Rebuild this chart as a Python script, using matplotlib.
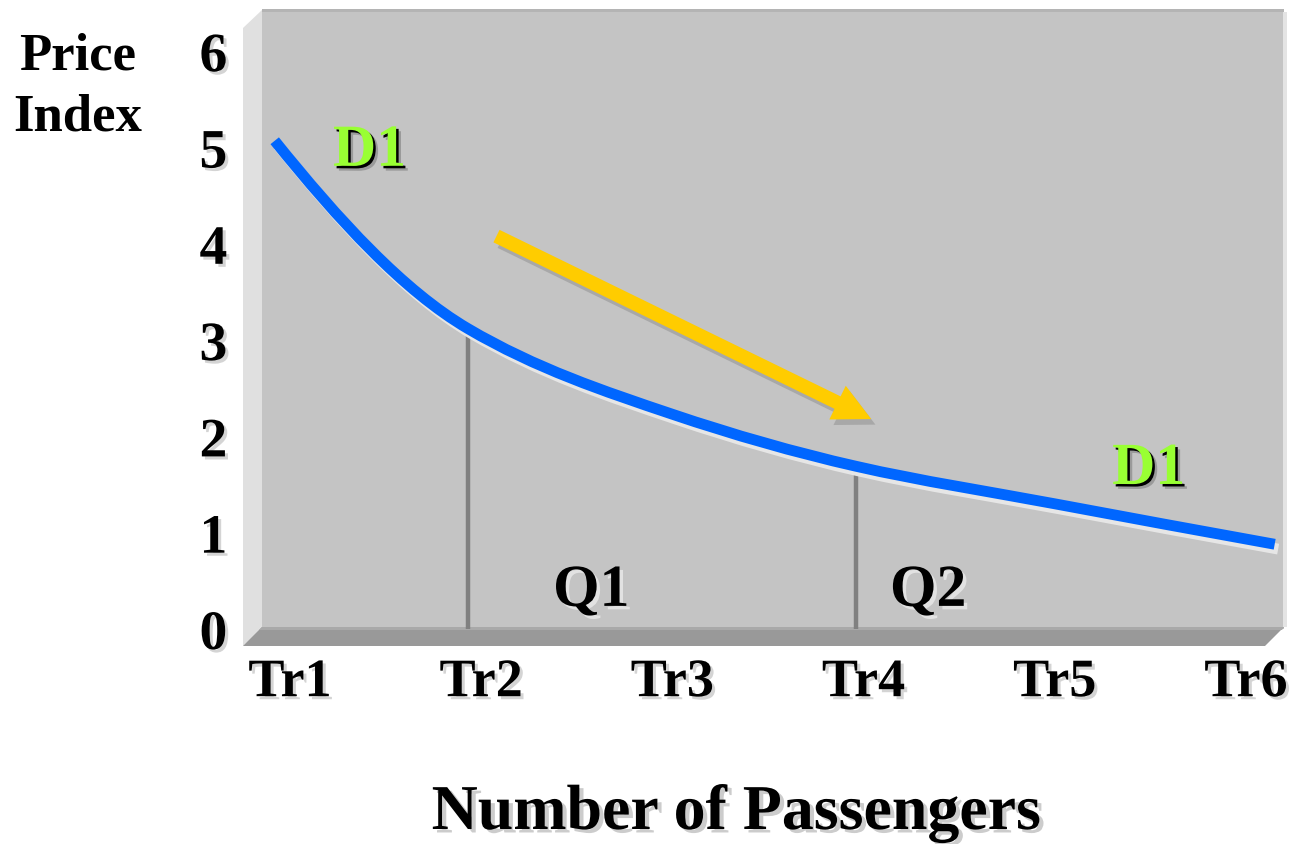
import matplotlib
matplotlib.use("Agg")
import matplotlib.pyplot as plt
import matplotlib.patheffects as pe
from matplotlib.patches import Polygon, PathPatch
from matplotlib.path import Path

plt.rcParams['font.family'] = ['Liberation Serif', 'DejaVu Serif']
plt.rcParams['font.weight'] = 'bold'

# demand curve D1 (quantity position, price index)
demand_x = [0.92, 1.93, 3.00, 3.96, 5.00, 6.15]
demand_y = [5.07, 3.12, 2.23, 1.69, 1.30, 0.88]

# quantity drop lines Q1 / Q2
q_names = ['Q1', 'Q2']
q_x = [1.93, 3.96]
q_y = [3.12, 1.66]

# movement along the curve
arrow_from = (2.08, 4.08)
arrow_to = (4.04, 2.18)

x_ticks = [1, 2, 3, 4, 5, 6]
x_labels = ['Tr1', 'Tr2', 'Tr3', 'Tr4', 'Tr5', 'Tr6']
y_ticks = [0, 1, 2, 3, 4, 5, 6]

W, H = 1296, 845
fig = plt.figure(figsize=(W / 100, H / 100), dpi=100)

# background layer in pixel units for the 3D walls
bg = fig.add_axes([0, 0, 1, 1])
bg.set_xlim(0, W)
bg.set_ylim(H, 0)
bg.axis('off')
bg.add_patch(Polygon([(262, 11), (1284, 11), (1284, 630), (262, 630)],
                     closed=True, fc='#c4c4c4', ec='none'))
bg.add_patch(Polygon([(262, 10), (1284, 10), (1284, 13), (262, 13)],
                     closed=True, fc='#b4b4b4', ec='none'))
bg.add_patch(Polygon([(1283, 13), (1287, 13), (1287, 628), (1283, 628)],
                     closed=True, fc='#e4e4e4', ec='none'))
bg.add_patch(Polygon([(243, 29), (262, 11), (262, 630), (243, 647)],
                     closed=True, fc='#e0e0e0', ec='none'))
bg.add_patch(Polygon([(262, 628), (1284, 628), (1265, 647), (243, 647)],
                     closed=True, fc='#999999', ec='none'))
bg.add_patch(Polygon([(262, 628), (1284, 628), (1282, 631), (259, 631)],
                     closed=True, fc='#a9a9a9', ec='none'))

# data axes sitting on the back wall
x0, x1 = 262, 1283
y0, y1 = 630, 11
px_x, px_y = 191.2, 96.3
ax = fig.add_axes([x0 / W, 1 - y0 / H, (x1 - x0) / W, (y0 - y1) / H])
ax.patch.set_visible(False)
for s in ax.spines.values():
    s.set_visible(False)
ax.set_xlim(1 - (290 - x0) / px_x, 1 + (x1 - 290) / px_x)
ax.set_ylim(0, (y0 - y1) / px_y)

light_shadow = [pe.withSimplePatchShadow(offset=(2.2, -2.2), shadow_rgbFace='#d4d4d4', alpha=1)]

ax.set_xticks(x_ticks)
ax.set_xticklabels(x_labels, fontsize=39, fontweight='bold')
ax.set_yticks(y_ticks)
ax.set_yticklabels([str(v) for v in y_ticks], fontsize=40, fontweight='bold')
ax.tick_params(axis='x', length=0, pad=21)
ax.tick_params(axis='y', length=0, pad=25)
for lbl in ax.get_xticklabels() + ax.get_yticklabels():
    lbl.set_path_effects(light_shadow)

# Q drop lines
for qx, qy in zip(q_x, q_y):
    ax.plot([qx, qx], [0, qy], color='#808080', lw=3.2, solid_capstyle='butt', zorder=2)

# smooth demand curve: monotone cubic (PCHIP tangents) written as Bezier segments
n = len(demand_x)
h = [demand_x[i + 1] - demand_x[i] for i in range(n - 1)]
d = [(demand_y[i + 1] - demand_y[i]) / h[i] for i in range(n - 1)]
m = [0.0] * n
for i in range(1, n - 1):
    w1 = 2 * h[i] + h[i - 1]
    w2 = h[i] + 2 * h[i - 1]
    m[i] = (w1 + w2) / (w1 / d[i - 1] + w2 / d[i])
m[0] = ((2 * h[0] + h[1]) * d[0] - h[0] * d[1]) / (h[0] + h[1])
m[-1] = ((2 * h[-1] + h[-2]) * d[-1] - h[-1] * d[-2]) / (h[-1] + h[-2])

verts = [(demand_x[0], demand_y[0])]
codes = [Path.MOVETO]
for i in range(n - 1):
    c1 = (demand_x[i] + h[i] / 3, demand_y[i] + m[i] * h[i] / 3)
    c2 = (demand_x[i + 1] - h[i] / 3, demand_y[i + 1] - m[i + 1] * h[i] / 3)
    verts += [c1, c2, (demand_x[i + 1], demand_y[i + 1])]
    codes += [Path.CURVE4] * 3
curve = PathPatch(Path(verts, codes), fc='none', ec='#0066ff', lw=7.8,
                  capstyle='butt', zorder=4)
curve.set_path_effects([pe.SimpleLineShadow(offset=(2.5, -3.5), shadow_color='#e6e6e6', alpha=1),
                        pe.Normal()])
ax.add_patch(curve)

# yellow arrow
ax.annotate('', xy=arrow_to, xytext=arrow_from,
            arrowprops=dict(arrowstyle='simple,head_length=1.35,head_width=1.35,tail_width=0.5',
                            mutation_scale=20, fc='#ffcc00', ec='none',
                            shrinkA=0, shrinkB=0,
                            path_effects=[pe.SimplePatchShadow(offset=(3, -4), shadow_rgbFace='#a8a8a8', alpha=1),
                                          pe.Normal()]),
            zorder=5)

# labels on the chart
for name, tx in zip(q_names, [2.376, 4.138]):
    ax.text(tx, 0.24, name, fontsize=43, fontweight='bold', color='black',
            ha='left', va='baseline', zorder=6,
            path_effects=[pe.withSimplePatchShadow(offset=(2.5, -2.5), shadow_rgbFace='#e2e2e2', alpha=1)])

green_fx = [pe.SimplePatchShadow(offset=(3.5, -3.5), shadow_rgbFace='#9a9a9a', alpha=1),
            pe.SimplePatchShadow(offset=(1.8, -1.8), shadow_rgbFace='black', alpha=1),
            pe.Normal()]
for tx, ty in [(1.225, 4.81), (5.30, 1.506)]:
    ax.text(tx, ty, 'D1', fontsize=43, fontweight='bold', color='#99ff33',
            ha='left', va='baseline', zorder=6, path_effects=green_fx)

# axis titles
fig.text(78 / W, 1 - 87 / H, 'Price\nIndex', fontsize=38, fontweight='bold',
         ha='center', va='center', linespacing=1.35)
fig.text(736 / W, 1 - 830 / H, 'Number of Passengers', fontsize=46, fontweight='bold',
         ha='center', va='baseline',
         path_effects=[pe.withSimplePatchShadow(offset=(3, -2.5), shadow_rgbFace='#cccccc', alpha=1)])

fig.savefig('out.png', dpi=100)
